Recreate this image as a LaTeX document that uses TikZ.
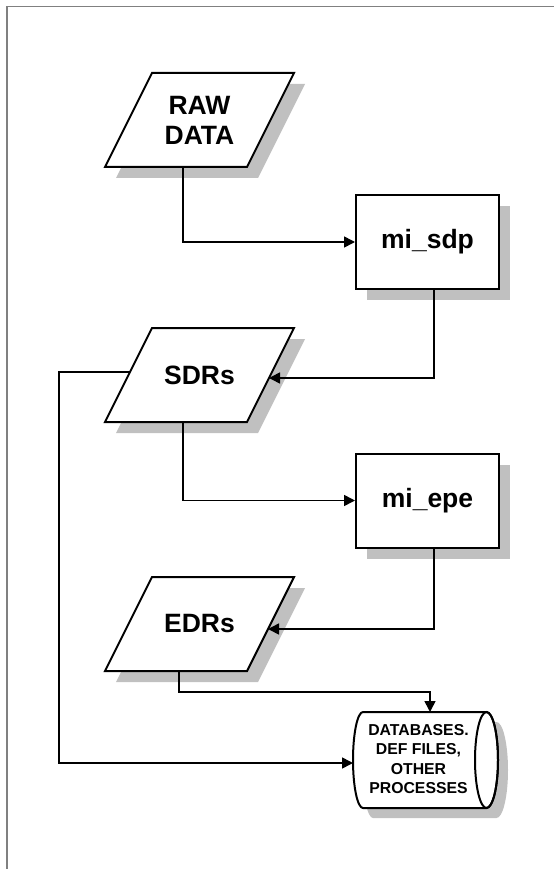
\documentclass[tikz,border=0pt]{standalone}
\usepackage{fontspec}
\setmainfont{Liberation Sans}
\usetikzlibrary{arrows.meta}
\definecolor{framegray}{HTML}{808080}
\definecolor{shadegray}{HTML}{C0C0C0}
\tikzset{
  link/.style={line width=1.6pt, -{Triangle[length=11pt,width=11pt]}},
  outline/.style={draw=black, line width=2pt, fill=white, line join=miter},
  shade/.style={fill=shadegray, draw=none},
  lbl/.style={font=\fontsize{26.5}{30}\selectfont\bfseries, align=center, inner sep=0pt},
  datalbl/.style={lbl, minimum width=142pt, minimum height=94pt},
  procbox/.style={lbl, outline, minimum width=143pt, minimum height=94pt},
  dblbl/.style={font=\fontsize{15.8}{19.3}\selectfont\bfseries, align=center, inner sep=0pt},
}
% data slab (parallelogram) with drop shadow: name, centre x, centre y, text
\newcommand\dataslab[4]{%
  \fill[shade] ({#2-83.5},{#3+58}) -- ({#2+58.5},{#3+58}) -- ({#2+105.5},{#3-36}) -- ({#2-36.5},{#3-36}) -- cycle;
  \draw[outline] ({#2-94.5},{#3+47}) -- ({#2+47.5},{#3+47}) -- ({#2+94.5},{#3-47}) -- ({#2-47.5},{#3-47}) -- cycle;
  \node[datalbl] (#1) at (#2,#3) {#4};
}
% process box with drop shadow: name, centre x, centre y, text
\newcommand\procstep[4]{%
  \fill[shade] ({#2-60.5},{#3-36}) rectangle ({#2+82.5},{#3+58});
  \node[procbox] (#1) at (#2,#3) {#4};
}
\begin{document}
\begin{tikzpicture}[x=1pt,y=-1pt]
  \useasboundingbox (0,0) rectangle (554,869);
  % page frame
  \draw[framegray, line width=1.5pt] (7,869) -- (7,6.5) -- (554,6.5);

  % data slabs and processes
  \dataslab{raw}{199.5}{120}{RAW\\DATA}
  \procstep{sdp}{427.5}{242}{mi\_sdp}
  \dataslab{sdrs}{199.5}{375}{SDRs}
  \procstep{epe}{427.5}{500.5}{mi\_epe}
  \dataslab{edrs}{199.5}{624}{EDRs}

  % storage cylinder
  \fill[shade] (373,722) -- (496.5,722) arc[start angle=-90, end angle=90, x radius=11.5, y radius=48]
    -- (373,818) arc[start angle=90, end angle=270, x radius=10, y radius=48] -- cycle;
  \draw[outline] (363,712) -- (486.5,712) arc[start angle=-90, end angle=90, x radius=11.5, y radius=48]
    -- (363,808) arc[start angle=90, end angle=270, x radius=10, y radius=48] -- cycle;
  \draw[line width=2pt] (486.5,760) ellipse[x radius=11.5, y radius=48];
  \node[dblbl] (db) at (418.5,759) {DATABASES.\\DEF FILES,\\OTHER\\PROCESSES};
  \coordinate (dbL) at (353,763);
  \coordinate (dbT) at (430,712);

  % points on the slanted sides of the slabs
  \coordinate (sdrsR) at (269,378);
  \coordinate (sdrsL) at (130,372);
  \coordinate (edrsR) at (268,629);

  % connectors
  \draw[link] ([xshift=-16.5pt]raw.south) |- (sdp.west);
  \draw[link] ([xshift=6.5pt]sdp.south) |- (sdrsR);
  \draw[link] ([xshift=-16.5pt]sdrs.south) |- (epe.west);
  \draw[link] ([xshift=6.5pt]epe.south) |- (edrsR);
  \draw[link] ([xshift=-20.5pt]edrs.south) -- ++(0,21) -| (dbT);
  \draw[link] (sdrsL) -- ++(-71,0) |- (dbL);
\end{tikzpicture}
\end{document}
